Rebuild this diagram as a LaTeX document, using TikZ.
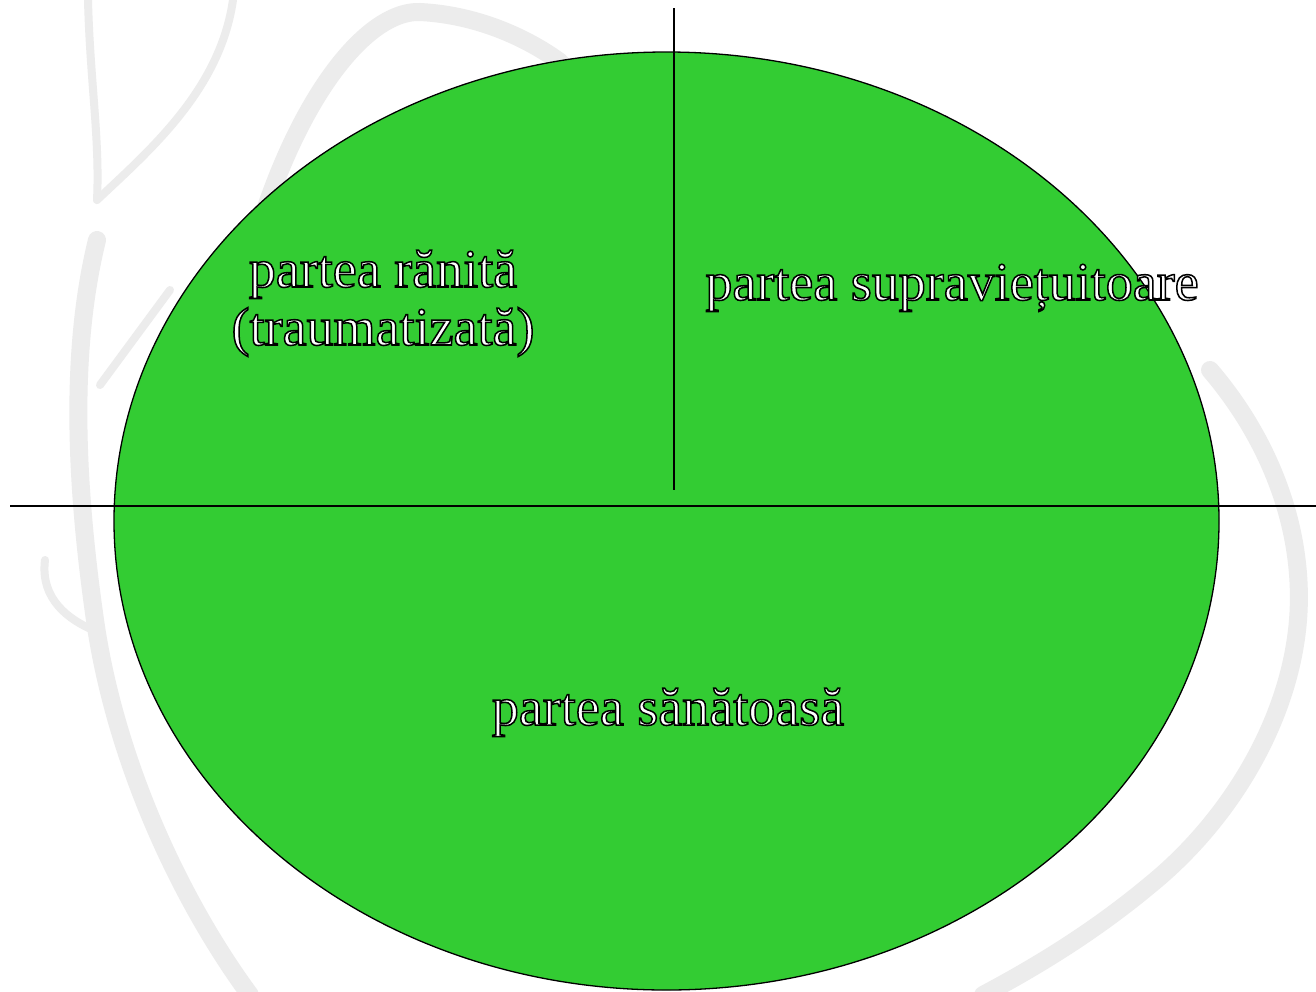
\documentclass[tikz,border=0pt]{standalone}
\usepackage{fontspec}
\setmainfont{Liberation Serif}
\newfontfamily\outfont[FakeBold=2.8]{Liberation Serif}
\definecolor{leafgreen}{RGB}{51,204,51}
\definecolor{wmark}{RGB}{236,236,236}
\newcommand{\outl}{\outfont\color{white}\special{pdf:code 0 G}}
\tikzset{
  wm/.style={draw=wmark, line width=18pt, line cap=round},
  wmthin/.style={draw=wmark, line width=8pt, line cap=round},
  divider/.style={draw=black, line width=1.3pt},
  label/.style={font=\fontsize{54}{58}\selectfont\outl, inner sep=0pt, align=center}
}
\begin{document}
\begin{tikzpicture}[x=1pt,y=-1pt]
\useasboundingbox (0,0) rectangle (1316,991);
\fill[white] (0,0) rectangle (1316,991);
% faint watermark swirl
\draw[wmthin] (88,0) .. controls (90,80) and (100,140) .. (97,200);
\draw[wmthin] (233,0) .. controls (220,90) and (150,150) .. (97,200);
\draw[wm] (240,300) .. controls (280,120) and (360,10) .. (420,12) .. controls (480,15) and (530,40) .. (560,62);
\draw[wm] (97,240) .. controls (70,350) and (75,480) .. (95,620) .. controls (115,760) and (180,900) .. (250,995);
\draw[wmthin] (170,290) -- (100,385);
\draw[wmthin] (45,560) .. controls (40,600) and (70,620) .. (93,630);
\draw[wm] (1210,370) .. controls (1270,440) and (1305,530) .. (1298,620) .. controls (1290,720) and (1230,820) .. (1150,885) .. controls (1090,935) and (1030,970) .. (983,995);
% main ellipse
\draw[fill=leafgreen, draw=black, line width=1.3pt] (666.5,521) ellipse [x radius=552.5, y radius=469];
% dividing lines
\coordinate (hl) at (10,506);
\coordinate (hr) at (1316,506);
\coordinate (vt) at (674,8);
\coordinate (vb) at (674,490);
\draw[divider] (hl) -- (hr);
\draw[divider] (vt) -- (vb);
% labels
\node[label, anchor=base] (ranit) at (383,345) {partea rănită\\(traumatizată)};
\node[label, anchor=base] (supra) at (952,300) {partea supraviețuitoare};
\node[label, anchor=base] (sanat) at (668,725) {partea sănătoasă};
\end{tikzpicture}
\end{document}
